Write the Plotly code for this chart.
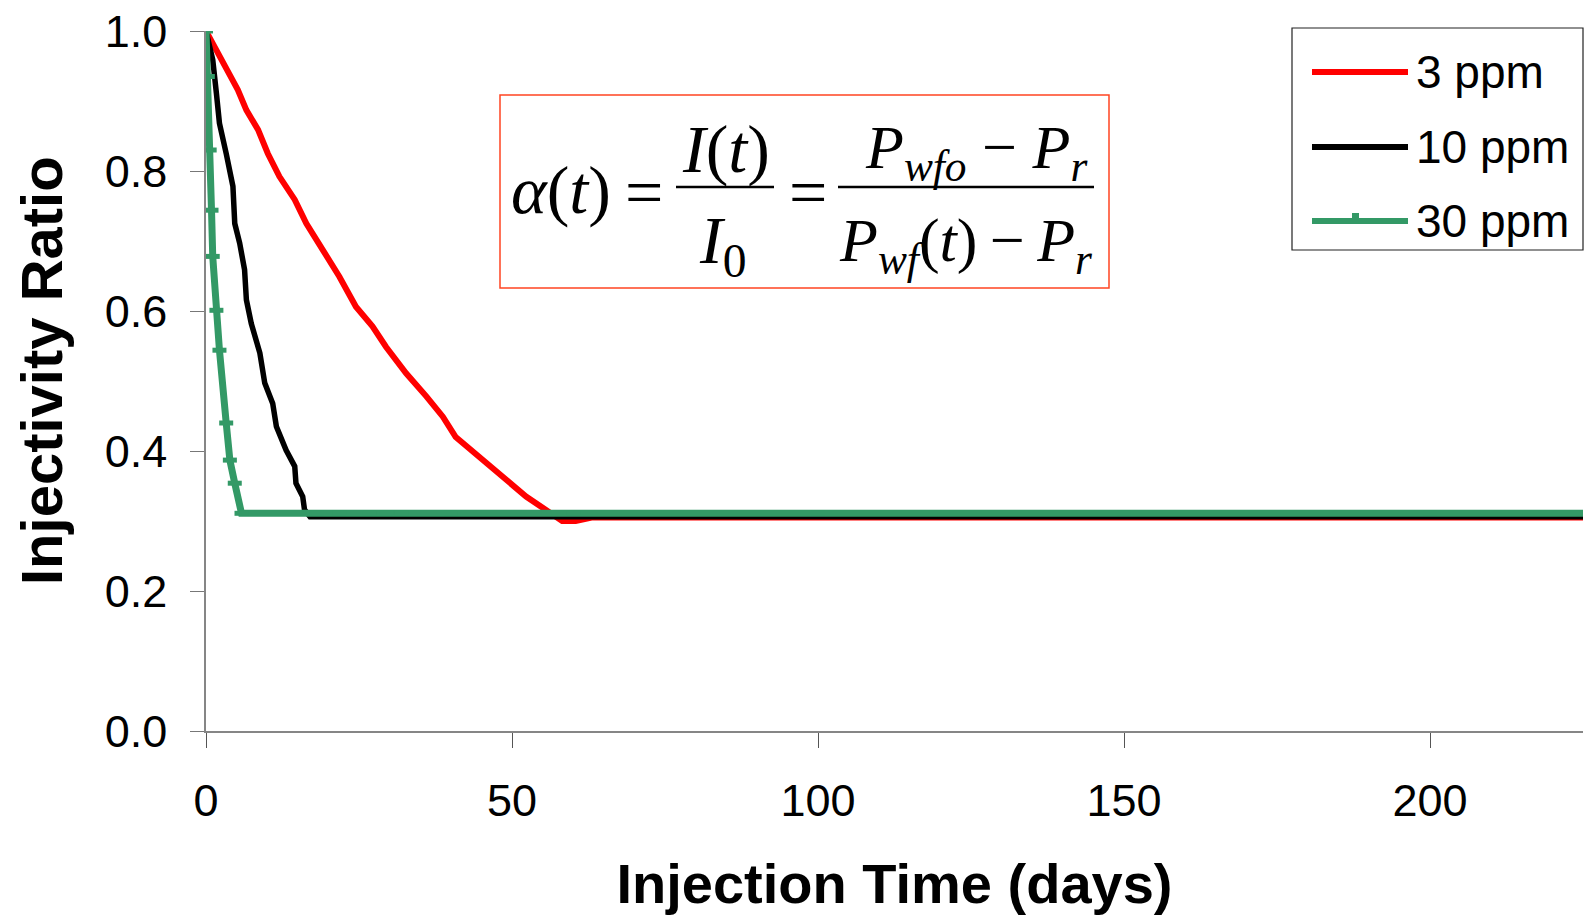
import plotly.graph_objects as go

# ---------------- data ----------------
red_x = [0, 1.1, 2.2, 3.9, 5.2, 6.6, 8.5, 10.1, 12.0, 14.5, 16.4, 19.1, 21.8, 24.5, 27.2,
         29.4, 32.7, 36.0, 38.7, 40.8, 44.7, 47.9, 52.3, 55.5, 58.2, 60.4, 63, 67, 72, 75.5,
         82, 92, 97, 104, 114.5, 118.5, 140, 170, 199.6, 217.6, 225]
red_y = [1.0, 0.982, 0.966, 0.94, 0.916, 0.887, 0.859, 0.825, 0.792, 0.759, 0.725, 0.687,
         0.649, 0.606, 0.578, 0.549, 0.511, 0.478, 0.449, 0.42, 0.392, 0.368, 0.335, 0.316,
         0.300, 0.300, 0.305, 0.305, 0.305, 0.305, 0.305, 0.305, 0.305, 0.305, 0.305, 0.305,
         0.305, 0.305, 0.305, 0.305, 0.305]

black_x = [0, 1.1, 1.7, 2.2, 3.3, 4.4, 4.7, 5.5, 6.3, 6.6, 7.4, 8.8, 9.6, 10.9, 11.5, 13.1,
           14.5, 14.7, 15.8, 16.1, 17.0, 30, 60, 100, 150, 225]
black_y = [1.0, 0.959, 0.911, 0.868, 0.825, 0.778, 0.725, 0.697, 0.659, 0.616, 0.582, 0.54,
           0.497, 0.468, 0.435, 0.401, 0.378, 0.354, 0.335, 0.316, 0.306, 0.306, 0.306,
           0.306, 0.306, 0.306]

green_x = [0, 0.3, 0.6, 0.9, 1.1, 1.7, 2.2, 3.3, 3.9, 4.7, 5.8, 18.0, 21.8, 26.7, 29.5,
           31.9, 40.0, 60, 100, 150, 200, 225]
green_y = [1.0, 0.935, 0.83, 0.744, 0.678, 0.601, 0.544, 0.44, 0.387, 0.354, 0.311, 0.311,
           0.311, 0.311, 0.311, 0.311, 0.311, 0.311, 0.311, 0.311, 0.311, 0.311]

series_names = ["3 ppm", "10 ppm", "30 ppm"]
series_colors = ["#FF0000", "#000000", "#339966"]

x_ticks = [0, 50, 100, 150, 200]
y_ticks = [0.0, 0.2, 0.4, 0.6, 0.8, 1.0]

x_title = "Injection Time (days)"
y_title = "Injectivity Ratio"

# ---------------- layout geometry ----------------
W, H = 1586, 915
L, R, T, B = 206, 3, 31, 184
PW, PH = W - L - R, H - T - B


def px(X):   # page pixel -> paper fraction
    return (X - L) / PW


def py(Y):
    return (T + PH - Y) / PH


sans = "Liberation Sans, Arial, sans-serif"
serif = "Liberation Serif, Times New Roman, serif"

fig = go.Figure()
fig.add_trace(go.Scatter(x=red_x, y=red_y, mode="lines", name=series_names[0],
                         line=dict(color=series_colors[0], width=6), showlegend=False))
fig.add_trace(go.Scatter(x=black_x, y=black_y, mode="lines", name=series_names[1],
                         line=dict(color=series_colors[1], width=5.5), showlegend=False))
fig.add_trace(go.Scatter(x=green_x, y=green_y, mode="lines+markers", name=series_names[2],
                         line=dict(color=series_colors[2], width=7),
                         marker=dict(symbol="line-ew", size=10,
                                     line=dict(color=series_colors[2], width=5)),
                         showlegend=False))

shapes = []
annotations = []

# ----- custom legend -----
shapes.append(dict(type="rect", xref="paper", yref="paper",
                   x0=px(1292), x1=px(1583), y0=py(250), y1=py(28),
                   line=dict(color="#222222", width=1.2), fillcolor="white", layer="above"))
leg_y = [72, 147, 221]
for name, col, yy in zip(series_names, series_colors, leg_y):
    shapes.append(dict(type="line", xref="paper", yref="paper",
                       x0=px(1312), x1=px(1408), y0=py(yy), y1=py(yy),
                       line=dict(color=col, width=6), layer="above"))
    annotations.append(dict(xref="paper", yref="paper", x=px(1414), y=py(yy),
                            xanchor="left", yanchor="middle", showarrow=False,
                            text=name, font=dict(family=sans, size=46, color="black")))
shapes.append(dict(type="rect", xref="paper", yref="paper",
                   x0=px(1352), x1=px(1359), y0=py(219), y1=py(213),
                   line=dict(width=0), fillcolor=series_colors[2], layer="above"))

# ----- equation box -----
shapes.append(dict(type="rect", xref="paper", yref="paper",
                   x0=px(500), x1=px(1109), y0=py(288), y1=py(95),
                   line=dict(color="#FF4422", width=1.5), fillcolor="white", layer="above"))
shapes.append(dict(type="line", xref="paper", yref="paper",
                   x0=px(676), x1=px(774), y0=py(187), y1=py(187),
                   line=dict(color="black", width=2.5), layer="above"))
shapes.append(dict(type="line", xref="paper", yref="paper",
                   x0=px(838), x1=px(1094), y0=py(187), y1=py(187),
                   line=dict(color="black", width=2.5), layer="above"))


def eq(text, X, Y, size=66, anchor="center"):
    annotations.append(dict(xref="paper", yref="paper", x=px(X), y=py(Y),
                            xanchor=anchor, yanchor="middle", showarrow=False,
                            text=text, font=dict(family=serif, size=size, color="black")))


eq("<i>α</i>(<i>t</i>)", 561, 190, 68)
eq("=", 644, 192, 68)
eq("<i>I</i>(<i>t</i>)", 726, 149, 68)
eq("<i>I</i><sub>0</sub>", 722, 244, 68)
eq("=", 808, 192, 68)
eq("<i>P</i><sub><i>wfo</i></sub> − <i>P</i><sub><i>r</i></sub>", 976, 152, 62)
eq("<i>P</i><sub><i>wf</i></sub>(<i>t</i>)\u2009−\u2009<i>P</i><sub><i>r</i></sub>", 966, 244, 62)

# ----- y axis title (placed as rotated text to match the reference position) -----
annotations.append(dict(xref="paper", yref="paper", x=px(41), y=py(371),
                        xanchor="center", yanchor="middle", showarrow=False,
                        textangle=-90, text="<b>" + y_title + "</b>",
                        font=dict(family=sans, size=58, color="black")))

fig.update_layout(
    width=W, height=H, autosize=False,
    margin=dict(l=L, r=R, t=T, b=B, pad=0, autoexpand=False),
    plot_bgcolor="white", paper_bgcolor="white",
    shapes=shapes, annotations=annotations,
    showlegend=False,
    xaxis=dict(range=[0, 225], tickvals=x_ticks, ticks="outside", ticklen=15,
               tickcolor="#555555", tickwidth=1, showline=True, linecolor="#868686",
               linewidth=2, showgrid=False, zeroline=False, ticklabelstandoff=14,
               automargin=False, ticklabeloverflow="allow",
               tickfont=dict(family=sans, size=45, color="black"),
               title=dict(text="<b>" + x_title + "</b>", standoff=40,
                          font=dict(family=sans, size=56, color="black"))),
    yaxis=dict(range=[0, 1.0], tickvals=y_ticks, tickformat=".1f", ticks="outside",
               ticklen=14, tickcolor="#777777", tickwidth=1, showline=True,
               linecolor="#868686", linewidth=1.5, showgrid=False, zeroline=False,
               ticklabelstandoff=14, automargin=False, ticklabeloverflow="allow",
               tickfont=dict(family=sans, size=45, color="black")),
)

# remove the browser's default 8px page margin so the figure fills the window exactly
fig.write_html("out.html", config={"displayModeBar": False},
               post_script="document.body.style.margin='0px';")
